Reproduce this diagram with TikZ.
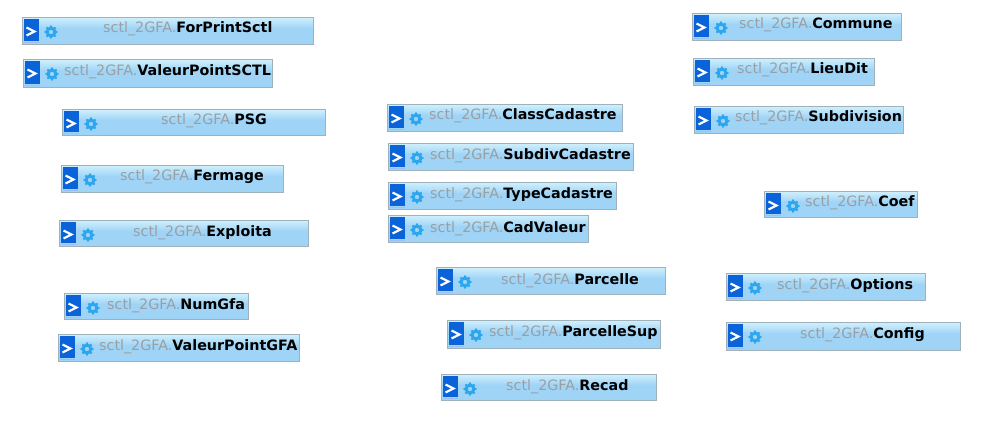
\documentclass[tikz,border=0pt]{standalone}
\usepackage{fontspec}
\setmainfont{DejaVu Sans}
\definecolor{bodylow}{HTML}{9FD4F7}
\definecolor{bodyhigh}{HTML}{D6F4FD}
\definecolor{bodytop}{HTML}{B4E2FA}
\definecolor{edgegrey}{HTML}{9FB2BC}
\definecolor{iconblue}{HTML}{0A63D8}
\definecolor{gearblue}{HTML}{2CA6EE}
\definecolor{prefixgrey}{HTML}{9A9FA3}
\pgfdeclareverticalshading{barfill}{100bp}{color(0bp)=(bodylow);color(55bp)=(bodylow);color(78bp)=(bodyhigh);color(90bp)=(bodyhigh);color(100bp)=(bodytop)}
\tikzset{
  x=1pt,y=-1pt,
  barbox/.style={draw=edgegrey,line width=1pt,shading=barfill,inner sep=0pt,rectangle},
  iconbox/.style={fill=iconblue,inner sep=0pt,rectangle},
  chevron/.style={draw=white,line width=2.2pt,line cap=butt,line join=miter},
  barlabel/.style={anchor=base west,inner sep=0pt,font=\fontsize{14.3}{16}\selectfont,text=black},
}
\newcommand{\barentry}[8]{%
  \node[barbox,minimum width=#4pt-#2pt-1pt,minimum height=#5pt-#3pt-1pt,anchor=north west] (box#1) at (#2,#3) {};
  \node[iconbox,minimum width=15pt,minimum height=#5pt-#3pt-6.5pt,anchor=north west] (icon#1) at (#2+1.5,#3+2) {};
  \fill[white!60!iconblue] (#2+1.5,#5-3.2) rectangle (#2+16.5,#5-2.2);
  \draw[chevron] (#2+4.5,#3+10.5) -- (#2+12.5,#3+14.5) -- (#2+4.5,#3+18.5);
  \fill[gearblue,even odd rule] (#2+29,#3+15) circle[radius=2.3pt] (#2+29,#3+15) circle[radius=5.5pt];
  \foreach \a in {0,45,...,315}{\fill[gearblue] (#2+29,#3+15) ++(\a:5.6pt) circle[radius=1.3pt];}
  \node[barlabel] (text#1) at (#6,#7+5) {\textcolor{prefixgrey}{sctl\_2GFA.}\textbf{#8}};
}
\begin{document}
\begin{tikzpicture}
\useasboundingbox (0,0) rectangle (992,422);
\fill[white] (0,0) rectangle (992,422);
\barentry{a}{22}{17}{314}{45}{103}{28}{ForPrintSctl}
\barentry{b}{23}{59}{273}{88}{64}{71}{ValeurPointSCTL}
\barentry{c}{62}{109}{326}{136}{161}{120}{PSG}
\barentry{d}{61}{165}{284}{193}{120}{176}{Fermage}
\barentry{e}{59}{220}{309}{247}{133}{231}{Exploita}
\barentry{f}{64}{293}{249}{320}{107}{304}{NumGfa}
\barentry{g}{58}{334}{300}{362}{99}{345}{ValeurPointGFA}
\barentry{h}{387}{104}{623}{132}{429}{115}{ClassCadastre}
\barentry{i}{388}{143}{634}{171}{430}{155}{SubdivCadastre}
\barentry{j}{388}{182}{617}{210}{430}{193}{TypeCadastre}
\barentry{k}{388}{215}{589}{243}{430}{227}{CadValeur}
\barentry{l}{436}{267}{666}{295}{501}{279}{Parcelle}
\barentry{m}{447}{320}{661}{349}{489}{331}{ParcelleSup}
\barentry{n}{441}{374}{657}{401}{506}{385}{Recad}
\barentry{o}{692}{13}{902}{41}{739}{24}{Commune}
\barentry{p}{693}{58}{875}{86}{737}{69}{LieuDit}
\barentry{q}{694}{106}{904}{134}{735}{117}{Subdivision}
\barentry{r}{764}{191}{918}{218}{805}{201}{Coef}
\barentry{s}{726}{273}{926}{301}{777}{284}{Options}
\barentry{t}{726}{322}{961}{351}{800}{333}{Config}
\end{tikzpicture}
\end{document}
